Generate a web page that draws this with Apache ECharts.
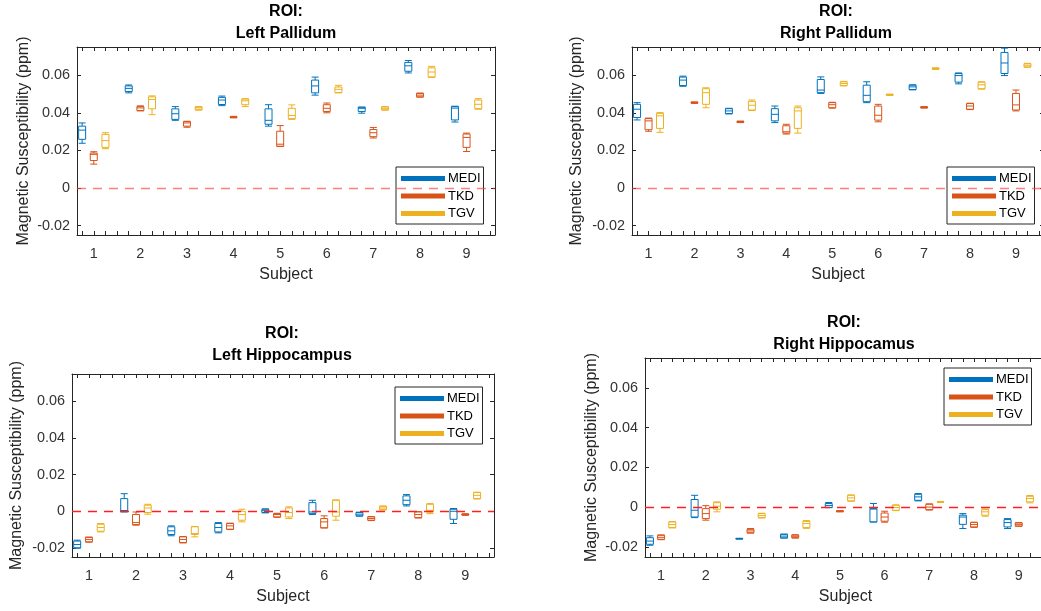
<!DOCTYPE html>
<html>
<head>
<meta charset="utf-8">
<script src="https://cdn.jsdelivr.net/npm/echarts@6/dist/echarts.min.js"></script>
<style>
  html, body { margin: 0; padding: 0; background: #fff; }
  #c1 { width: 1041px; height: 611px; }
</style>
</head>
<body>
<div id="c1"></div>
<script>
// subjects and methods
var SUBJECTS = [1, 2, 3, 4, 5, 6, 7, 8, 9];
var METHODS = ['MEDI', 'TKD', 'TGV'];
var METHOD_OFFSETS = [-0.25, 0, 0.25];
var METHOD_COLORS = ['#0072BD', '#D95319', '#EDB120'];

var X_TICKS = [0.75, 1, 1.25, 1.5, 1.75, 2, 2.25, 2.5, 2.75, 3, 3.25, 3.5, 3.75, 4, 4.25, 4.5, 4.75,
               5, 5.25, 5.5, 5.75, 6, 6.25, 6.5, 6.75, 7, 7.25, 7.5, 7.75, 8, 8.25, 8.5, 8.75, 9, 9.25, 9.5];
var X_LABELS = [1, 2, 3, 4, 5, 6, 7, 8, 9];
var Y_TICKS = [-0.02, 0, 0.02, 0.04, 0.06];

// box values per subject: [min, Q1, median, Q3, max]
var LP_MEDI = [[0.0238,0.0259,0.0308,0.0329,0.0346],[0.0506,0.0513,0.053,0.0543,0.0548],[0.036,0.0365,0.0395,0.0421,0.0433],
               [0.0438,0.0444,0.0468,0.0482,0.0489],[0.0329,0.0339,0.036,0.0421,0.0443],[0.0494,0.0506,0.0543,0.0574,0.059],
               [0.0398,0.0407,0.0424,0.043,0.043],[0.0612,0.0621,0.065,0.0668,0.0678],[0.0351,0.0362,0.0425,0.0433,0.0435]];
var LP_TKD  = [[0.0127,0.0146,0.0179,0.0186,0.0193],[0.041,0.0412,0.0426,0.0433,0.0437],[0.0323,0.0329,0.0346,0.0353,0.0355],
               [0.0373,0.0375,0.0377,0.0379,0.0381],[0.0221,0.0222,0.0233,0.0302,0.0332],[0.04,0.0407,0.0424,0.0443,0.0452],
               [0.0266,0.0273,0.0294,0.0311,0.0322],[0.0483,0.0485,0.0494,0.0503,0.0505],[0.0194,0.0216,0.0269,0.0287,0.0292]];
var LP_TGV  = [[0.0209,0.0216,0.0252,0.0285,0.0294],[0.039,0.0421,0.0471,0.0485,0.049],[0.0414,0.0416,0.0426,0.0431,0.0433],
               [0.0433,0.0443,0.0464,0.0473,0.0475],[0.0365,0.0369,0.0386,0.0424,0.0442],[0.0506,0.0508,0.0525,0.0537,0.0546],
               [0.0414,0.0416,0.0424,0.0431,0.0433],[0.0588,0.0591,0.0617,0.0639,0.0647],[0.0419,0.0422,0.0445,0.0468,0.0475]];

var RP_MEDI = [[0.0362,0.0375,0.0419,0.0445,0.0454],[0.0541,0.0545,0.0574,0.059,0.0595],[0.0394,0.0396,0.041,0.0422,0.0424],
               [0.0348,0.0357,0.0392,0.0422,0.0436],[0.0503,0.0507,0.0521,0.0577,0.0591],[0.0454,0.0459,0.0493,0.0547,0.0565],
               [0.0522,0.0524,0.0538,0.0547,0.0549],[0.0554,0.0563,0.0598,0.0609,0.0612],[0.0598,0.0609,0.0665,0.0721,0.0744]];
var RP_TKD  = [[0.0302,0.031,0.0357,0.0369,0.0372],[0.045,0.0452,0.0454,0.0456,0.0458],[0.0348,0.035,0.0352,0.0354,0.0356],
               [0.0287,0.0292,0.0299,0.0331,0.0339],[0.0425,0.0427,0.0443,0.0454,0.0456],[0.0352,0.0361,0.0387,0.0436,0.0445],
               [0.0425,0.0427,0.0429,0.0431,0.0433],[0.0417,0.0419,0.0436,0.0449,0.0451],[0.041,0.0415,0.0442,0.0503,0.0521]];
var RP_TGV  = [[0.0296,0.0317,0.0384,0.0397,0.0401],[0.0427,0.0445,0.0507,0.0528,0.0533],[0.0412,0.0415,0.044,0.0461,0.0468],
               [0.0292,0.0317,0.041,0.0427,0.0436],[0.0543,0.0545,0.0556,0.0565,0.0567],[0.0493,0.0494,0.0496,0.0498,0.0499],
               [0.0631,0.0633,0.0635,0.0637,0.0639],[0.0526,0.0528,0.0549,0.0563,0.0565],[0.0642,0.0644,0.0653,0.0661,0.0663]];

var LH_MEDI = [[-0.0202,-0.02,-0.0182,-0.0163,-0.0158],[-0.0004,0,0.0004,0.0069,0.0096],[-0.0134,-0.0127,-0.0107,-0.0085,-0.008],
               [-0.0118,-0.0113,-0.0089,-0.0067,-0.0062],[-0.0009,-0.0007,0.0003,0.0011,0.0013],[-0.0018,-0.0013,-0.0004,0.0047,0.006],
               [-0.0027,-0.0025,-0.0016,-0.0007,-0.0005],[0.0029,0.0036,0.006,0.0084,0.0091],[-0.0067,-0.0044,0,0.0011,0.0015]];
var LH_TKD  = [[-0.0169,-0.0167,-0.0154,-0.0143,-0.0141],[-0.0076,-0.0073,-0.0062,-0.0018,-0.0004],[-0.0173,-0.0171,-0.0154,-0.014,-0.0138],
               [-0.01,-0.0098,-0.008,-0.0067,-0.0065],[-0.0033,-0.0031,-0.0018,-0.0013,-0.0011],[-0.0091,-0.0091,-0.0058,-0.004,-0.0025],
               [-0.0051,-0.0049,-0.004,-0.0031,-0.0029],[-0.0037,-0.0035,-0.0018,-0.0004,-0.0002],[-0.0022,-0.0021,-0.0018,-0.0015,-0.0014]];
var LH_TGV  = [[-0.0113,-0.0109,-0.0089,-0.0071,-0.0067],[-0.0016,-0.0007,0.0018,0.0033,0.0038],[-0.014,-0.0127,-0.0122,-0.0085,-0.0083],
               [-0.0058,-0.0049,-0.0018,0,0.0011],[-0.004,-0.0031,-0.0007,0.0018,0.0024],[-0.0049,-0.0027,-0.0004,0.006,0.0062],
               [0.0007,0.0009,0.0018,0.0027,0.0029],[-0.0013,-0.0004,0.0005,0.0038,0.0042],[0.0067,0.0069,0.0087,0.0102,0.0104]];

var RH_MEDI = [[-0.0191,-0.0186,-0.017,-0.0153,-0.0144],[-0.0052,-0.0049,-0.0015,0.0039,0.006],[-0.016,-0.0159,-0.0158,-0.0157,-0.0156],
               [-0.0155,-0.0154,-0.0145,-0.0136,-0.0135],[-0.0002,-0.0001,0.0009,0.0019,0.0024],[-0.0074,-0.0074,-0.0009,-0.0007,0.0019],
               [0.0032,0.0035,0.0052,0.0065,0.0069],[-0.0107,-0.0086,-0.0049,-0.004,-0.0032],[-0.0107,-0.0099,-0.0077,-0.0062,-0.0057]];
var RH_TKD  = [[-0.0163,-0.0161,-0.0151,-0.0141,-0.0139],[-0.0065,-0.0057,-0.0032,-0.0007,0.0008],[-0.013,-0.0128,-0.0119,-0.0111,-0.0107],
               [-0.0155,-0.0153,-0.0146,-0.014,-0.0138],[-0.0023,-0.0022,-0.002,-0.0018,-0.0017],[-0.0075,-0.007,-0.0049,-0.0029,-0.002],
               [-0.0014,-0.0012,0.0001,0.0015,0.0017],[-0.0101,-0.0099,-0.0087,-0.0077,-0.0075],[-0.0096,-0.0094,-0.0086,-0.0079,-0.0077]];
var RH_TGV  = [[-0.0104,-0.0102,-0.0087,-0.0074,-0.0072],[-0.0023,-0.001,0.0005,0.0023,0.0027],[-0.0054,-0.0052,-0.0042,-0.0032,-0.003],
               [-0.0106,-0.0102,-0.0082,-0.0071,-0.0067],[0.003,0.0032,0.0047,0.006,0.0062],[-0.0017,-0.0015,-0.0001,0.001,0.0012],
               [0.0025,0.0026,0.0027,0.0028,0.0029],[-0.0045,-0.004,-0.0023,-0.0012,-0.0009],[0.0022,0.0027,0.0044,0.0055,0.0059]];

var FONT = '"Liberation Sans", Arial, Helvetica, sans-serif';
var AXIS_COLOR = '#262626';

// layout of the four panels
var panels = [
    {name: 'Left Pallidum', data: [LP_MEDI, LP_TKD, LP_TGV],
     grid: {left: 77, top: 47, width: 418, height: 188}, titleX: 286, titleY: 1,
     legend: {left: 396, top: 167}, zero: 'rgba(255,60,60,0.65)', yGap: 45},
    {name: 'Right Pallidum', data: [RP_MEDI, RP_TKD, RP_TGV],
     grid: {left: 632, top: 47, width: 412, height: 188}, titleX: 836, titleY: 1,
     legend: {left: 947, top: 167}, zero: 'rgba(255,60,60,0.65)', yGap: 47},
    {name: 'Left Hippocampus', data: [LH_MEDI, LH_TKD, LH_TGV],
     grid: {left: 72, top: 374, width: 422, height: 183}, titleX: 282, titleY: 323,
     legend: {left: 395, top: 387}, zero: '#ff2020', yGap: 47},
    {name: 'Right Hippocamus', data: [RH_MEDI, RH_TKD, RH_TGV],
     grid: {left: 645, top: 358, width: 401, height: 199}, titleX: 844, titleY: 312,
     legend: {left: 944, top: 368}, zero: '#ff2020', yGap: 45}
];

var option = {
    animation: false,
    textStyle: {fontFamily: FONT},
    title: [], grid: [], xAxis: [], yAxis: [], legend: [], series: []
};

panels.forEach(function (p, pi) {
    option.title.push({
        text: 'ROI:\n' + p.name,
        left: p.titleX, top: p.titleY, textAlign: 'center', padding: 0,
        textStyle: {fontFamily: FONT, fontSize: 16, fontWeight: 'bold', color: '#000', lineHeight: 22}
    });
    option.grid.push({
        left: p.grid.left, top: p.grid.top, width: p.grid.width, height: p.grid.height,
        containLabel: false, outerBoundsMode: 'none'
    });
    var xBase = {
        gridIndex: pi, type: 'value', min: 0.64, max: 9.61,
        splitLine: {show: false},
        axisLine: {show: true, onZero: false, lineStyle: {color: AXIS_COLOR, width: 1}},
        axisTick: {show: true, inside: true, length: 4, customValues: X_TICKS, lineStyle: {color: AXIS_COLOR}}
    };
    // bottom axis with labels
    option.xAxis.push(Object.assign({}, xBase, {
        position: 'bottom',
        name: 'Subject', nameLocation: 'middle', nameGap: 32,
        nameTextStyle: {fontFamily: FONT, fontSize: 16, color: AXIS_COLOR},
        axisLabel: {show: true, customValues: X_LABELS, margin: 12, fontSize: 14.4, color: '#333', fontFamily: FONT}
    }));
    // top mirror axis
    option.xAxis.push(Object.assign({}, xBase, {position: 'top', axisLabel: {show: false}}));
    // hidden axes so each method keeps its own position (no auto grouping offset)
    option.xAxis.push({gridIndex: pi, type: 'value', min: 0.64, max: 9.61, show: false});
    option.xAxis.push({gridIndex: pi, type: 'value', min: 0.64, max: 9.61, show: false});

    var yBase = {
        gridIndex: pi, type: 'value', min: -0.025, max: 0.075,
        splitLine: {show: false},
        axisLine: {show: true, onZero: false, lineStyle: {color: AXIS_COLOR, width: 1}},
        axisTick: {show: true, inside: true, length: 4, customValues: Y_TICKS, lineStyle: {color: AXIS_COLOR}}
    };
    option.yAxis.push(Object.assign({}, yBase, {
        position: 'left',
        name: 'Magnetic Susceptibility (ppm)', nameLocation: 'middle', nameGap: p.yGap, nameRotate: 90,
        nameTextStyle: {fontFamily: FONT, fontSize: 16, color: AXIS_COLOR},
        axisLabel: {show: true, customValues: Y_TICKS, margin: 7, fontSize: 14.4, color: '#333', fontFamily: FONT}
    }));
    option.yAxis.push(Object.assign({}, yBase, {position: 'right', axisLabel: {show: false}}));

    option.legend.push({
        data: METHODS, orient: 'vertical', left: p.legend.left, top: p.legend.top,
        icon: 'rect', itemWidth: 44, itemHeight: 5, itemGap: 4.5,
        padding: [5, 3, 4, 5], borderColor: AXIS_COLOR, borderWidth: 1, borderRadius: 0,
        backgroundColor: '#fff', selectedMode: false,
        itemStyle: {borderWidth: 0},
        textStyle: {fontFamily: FONT, fontSize: 13, color: '#000', padding: [0, 0, 0, -2]}
    });

    var xIdx = [pi * 4, pi * 4 + 2, pi * 4 + 3];
    METHODS.forEach(function (m, mi) {
        var s = {
            name: m, type: 'boxplot',
            xAxisIndex: xIdx[mi], yAxisIndex: pi * 2,
            boxWidth: [7, 7],
            silent: true,
            itemStyle: {color: 'rgba(0,0,0,0)', borderColor: METHOD_COLORS[mi], borderWidth: 1},
            emphasis: {disabled: true},
            data: SUBJECTS.map(function (sub, i) {
                return [sub + METHOD_OFFSETS[mi]].concat(p.data[mi][i]);
            })
        };
        if (mi === 0) {
            s.markLine = {
                silent: true, symbol: ['none', 'none'], label: {show: false},
                lineStyle: {color: p.zero, type: [9, 7], width: 1.3},
                data: [{yAxis: 0}]
            };
        }
        option.series.push(s);
    });
});

var myChart = echarts.init(document.getElementById('c1'));
myChart.setOption(option);
</script>
</body>
</html>
